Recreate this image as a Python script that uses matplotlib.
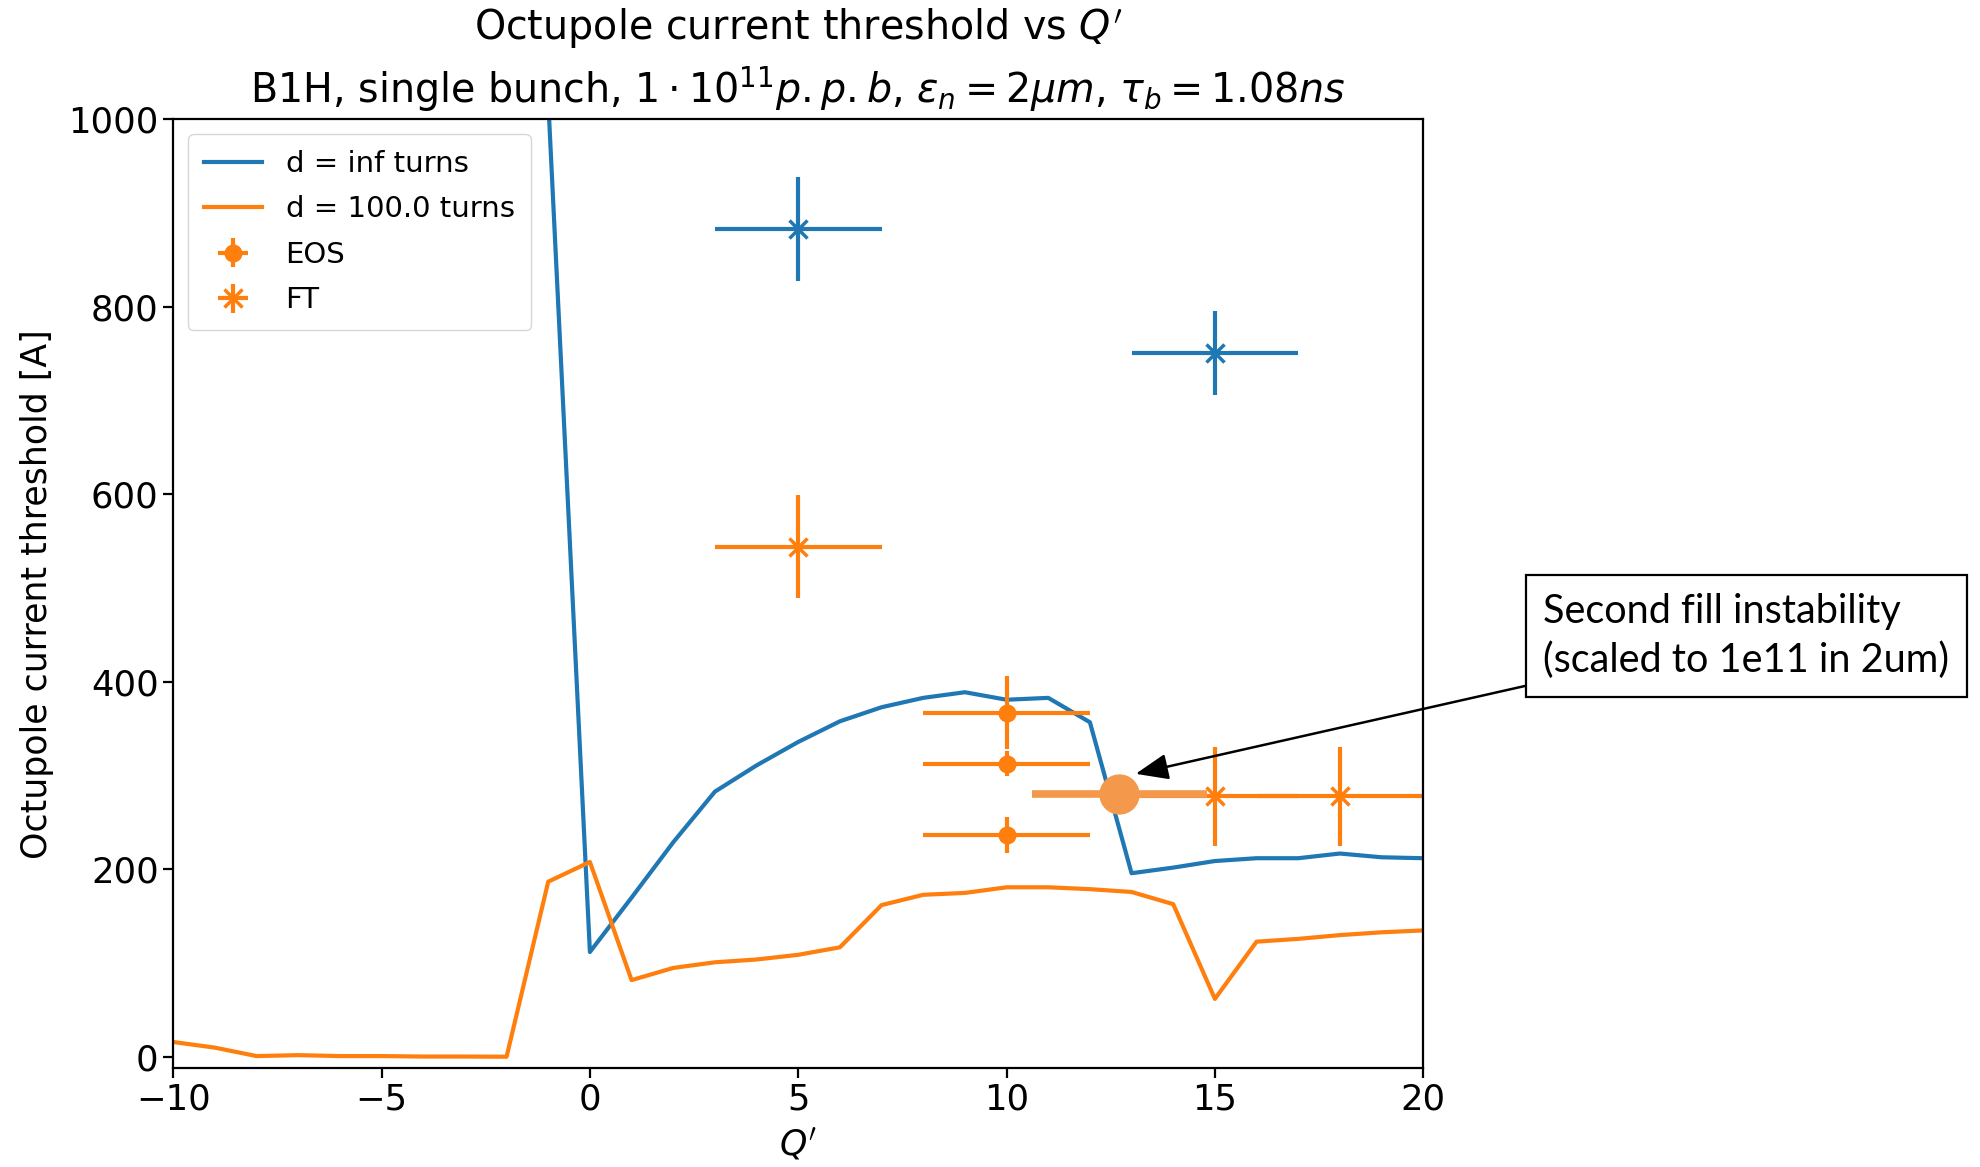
import numpy as np
import matplotlib
matplotlib.use("Agg")
import matplotlib.pyplot as plt

# chromaticity scan
q_inf = [-1, 0, 1, 2, 3, 4, 5, 6, 7, 8, 9, 10, 11, 12, 13, 14, 15, 16, 17, 18, 19, 20]
thr_inf = [1020, 112, 170, 229, 283, 311, 336, 358, 373, 383, 389, 381, 383, 357,
           196, 202, 209, 212, 212, 217, 213, 212]

q_100 = list(range(-10, 21))
thr_100 = [16, 10, 1, 2, 1, 1, 0.5, 0.5, 0.3, 187, 208, 82, 95, 101, 104, 109, 117,
           162, 173, 175, 181, 181, 179, 176, 163, 62, 123, 126, 130, 133, 135]

# measurements
eos_q = [10, 10, 10]
eos_thr = [367, 313, 237]
eos_qerr = [2, 2, 2]
eos_err = [39, 13, 19]

ft_q = [5, 15, 18]
ft_thr = [544, 278, 278]
ft_qerr = [2, 2, 2]
ft_err = [55, 53, 53]

ft_inf_q = [5, 15]
ft_inf_thr = [883, 751]
ft_inf_qerr = [2, 2]
ft_inf_err = [55, 45]

fill_q = [12.7]
fill_thr = [281]
fill_qerr = [2.1]

fig = plt.figure(figsize=(19.8, 11.67), dpi=100)
ax = fig.add_axes([0.0875, 0.0846, 0.6313, 0.8132])

ax.plot(q_inf, thr_inf, color='C0', lw=3, label='d = inf turns')
ax.plot(q_100, thr_100, color='C1', lw=3, label='d = 100.0 turns')

ax.errorbar(eos_q, eos_thr, xerr=eos_qerr, yerr=eos_err, fmt='o', color='C1',
            ms=12, elinewidth=3, label='EOS')
ax.errorbar(ft_q, ft_thr, xerr=ft_qerr, yerr=ft_err, fmt='x', color='C1',
            ms=13, mew=2.5, elinewidth=3, label='FT')
ax.errorbar(ft_inf_q, ft_inf_thr, xerr=ft_inf_qerr, yerr=ft_inf_err, fmt='x', color='C0',
            ms=13, mew=2.5, elinewidth=3)

# second fill instability
ax.errorbar(fill_q, fill_thr, xerr=fill_qerr, fmt='o', color='#f4994c',
            ms=28, elinewidth=5.5, zorder=5)

ax.set_xlim(-10, 20)
ax.set_ylim(-12, 1000)

ax.set_title("Octupole current threshold vs $Q'$\n"
             r"B1H, single bunch, $1\cdot10^{11}p.p.b$, $\epsilon_n=2\mu m$, $\tau_b=1.08ns$",
             fontsize=28.5, pad=12, linespacing=1.35)
ax.set_xlabel("$Q'$", fontsize=25, labelpad=6)
ax.set_ylabel('Octupole current threshold [A]', fontsize=25, labelpad=10)
ax.tick_params(labelsize=25.5, length=7, width=1.6)
for sp in ax.spines.values():
    sp.set_linewidth(1.6)

ax.legend(loc='upper left', fontsize=21, borderpad=0.55, labelspacing=0.6)

ax.annotate('Second fill instability\n(scaled to 1e11 in 2um)',
            xy=(13.1, 302), xycoords='data',
            xytext=(0.882, 0.455), textcoords='figure fraction',
            ha='center', va='center', multialignment='left',
            fontsize=28.5, family='Lato', linespacing=1.4,
            bbox=dict(boxstyle='square,pad=0.45', fc='white', ec='black', lw=1.6),
            arrowprops=dict(arrowstyle='-|>,head_length=0.7,head_width=0.28',
                            color='black', lw=1.8, shrinkA=0, shrinkB=0),
            annotation_clip=False)

fig.savefig('out.png', dpi=100)
